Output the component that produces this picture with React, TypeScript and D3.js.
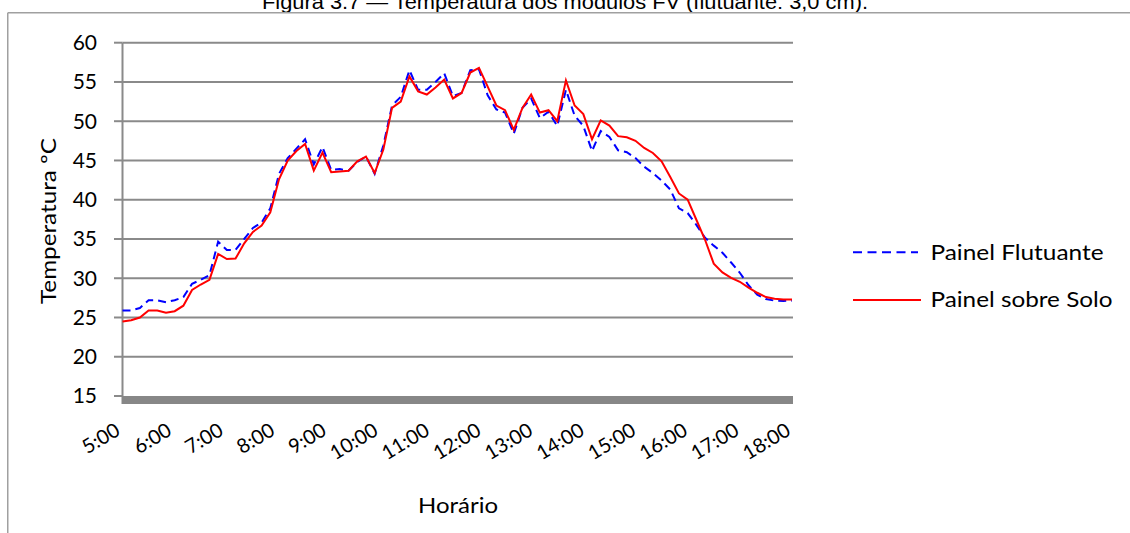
import React from "react";
import * as d3 from "d3";

const hourLabels = ["5:00","6:00","7:00","8:00","9:00","10:00","11:00","12:00","13:00","14:00","15:00","16:00","17:00","18:00"];
const yTicks = [15, 20, 25, 30, 35, 40, 45, 50, 55, 60];
const seriesNames = ["Painel Flutuante", "Painel sobre Solo"];

const flutuante = [
  25.9, 25.9, 26.2, 27.2, 27.2, 26.95, 27.2, 27.6, 29.3, 29.8,
  30.4, 34.65, 33.6, 33.6, 35.0, 36.4, 37.1, 38.9, 43.3, 45.3,
  46.5, 47.7, 44.5, 46.7, 43.8, 43.9, 43.7, 44.8, 45.5, 43.3,
  46.9, 52.0, 53.1, 56.5, 54.0, 54.0, 55.0, 56.1, 53.2, 53.6,
  56.5, 56.6, 53.3, 51.5, 51.1, 48.4, 51.7, 52.9, 50.4, 51.2,
  49.4, 54.0, 50.7, 49.4, 46.2, 48.75, 48.0, 46.3, 46.05, 45.3,
  44.2, 43.4, 42.45, 41.3, 38.9, 38.3, 36.8, 35.15, 34.15, 33.25,
  32.0, 30.7, 29.1, 27.9, 27.35, 27.15, 27.1, 27.15
];

const solo = [
  24.5, 24.65, 25.0, 25.9, 25.9, 25.6, 25.8, 26.5, 28.5, 29.2,
  29.8, 33.1, 32.45, 32.5, 34.45, 35.9, 36.7, 38.4, 42.6, 45.0,
  46.2, 47.1, 43.7, 46.0, 43.5, 43.6, 43.7, 44.9, 45.5, 43.4,
  46.4, 51.7, 52.5, 55.7, 53.8, 53.4, 54.3, 55.3, 52.9, 53.6,
  56.2, 56.8, 54.4, 52.0, 51.4, 48.9, 51.7, 53.4, 51.1, 51.4,
  50.0, 55.2, 52.0, 50.9, 47.7, 50.1, 49.45, 48.1, 47.95, 47.5,
  46.6, 45.95, 44.9, 42.9, 40.8, 40.0, 37.45, 34.9, 31.85, 30.75,
  30.05, 29.55, 28.8, 28.15, 27.6, 27.4, 27.3, 27.3
];

const FONT = "Lato, 'Open Sans', sans-serif";

export default function App() {
  const W = 1130, H = 533;
  const left = 122.5, right = 793;
  const y = d3.scaleLinear().domain([15, 60]).range([396, 42.7]);
  const xi = d3.scaleLinear().domain([0, solo.length - 1]).range([left, 792]);
  const xh = d3.scalePoint<string>().domain(hourLabels).range([left, right]);
  const line = d3.line<number>().x((_, i) => xi(i)).y((d) => y(d));
  const grid = "#8a8a8a";

  return (
    <svg width={W} height={H} style={{ position: "absolute", left: 0, top: 0, background: "#fff" }}>
      <text x={565} y={9} textAnchor="middle" fontFamily="'Liberation Sans', Arial, sans-serif" fontSize={20}
        textLength={606} lengthAdjust="spacingAndGlyphs" fill="#000">
        Figura 3.7 — Temperatura dos módulos FV (flutuante: 3,0 cm).
      </text>
      {/* frame */}
      <line x1={7.75} x2={1130} y1={12.7} y2={12.7} stroke="#a0a0a0" strokeWidth={1.5} />
      <line x1={7.75} x2={7.75} y1={12.7} y2={533} stroke="#a0a0a0" strokeWidth={1.5} />

      {/* gridlines and ticks */}
      {yTicks.map((t) => (
        <g key={t}>
          {t !== 15 && <line x1={left} x2={right} y1={y(t)} y2={y(t)} stroke={grid} strokeWidth={2} />}
          <line x1={114} x2={left} y1={y(t)} y2={y(t)} stroke={grid} strokeWidth={2} />
          <text x={97} y={y(t)} dy="0.35em" textAnchor="end" fontFamily={FONT} fontSize={21} fill="#000">{t}</text>
        </g>
      ))}
      <line x1={left} x2={left} y1={y(60)} y2={y(15)} stroke={grid} strokeWidth={2} />
      <rect x={left - 1} y={y(15)} width={right - left + 1} height={8} fill="#878787" />

      {/* x labels */}
      {hourLabels.map((h) => (
        <text key={h} transform={`translate(${(xh(h) as number) - 1},${434}) rotate(-31)`} textAnchor="end"
          fontFamily={FONT} fontSize={20} fill="#000">{h}</text>
      ))}

      {/* series */}
      <path d={line(flutuante) || ""} fill="none" stroke="#0000ff" strokeWidth={2} strokeDasharray="8,5" />
      <path d={line(solo) || ""} fill="none" stroke="#ff0000" strokeWidth={2} />

      {/* axis titles */}
      <text transform={`translate(56,221) rotate(-90)`} textAnchor="middle" fontFamily={FONT} fontSize={21}
        textLength={166} lengthAdjust="spacingAndGlyphs" fill="#000">Temperatura ºC</text>
      <text x={458} y={513} textAnchor="middle" fontFamily={FONT} fontSize={21}
        textLength={80} lengthAdjust="spacingAndGlyphs" fill="#000">Horário</text>

      {/* legend */}
      <line x1={853} x2={918} y1={252.3} y2={252.3} stroke="#0000ff" strokeWidth={2} strokeDasharray="9,5.5" />
      <text x={930.5} y={252.3} dy="0.35em" fontFamily={FONT} fontSize={21}
        textLength={173} lengthAdjust="spacingAndGlyphs" fill="#000">{seriesNames[0]}</text>
      <line x1={853} x2={921} y1={300} y2={300} stroke="#ff0000" strokeWidth={2} />
      <text x={930.5} y={300} dy="0.35em" fontFamily={FONT} fontSize={21}
        textLength={182} lengthAdjust="spacingAndGlyphs" fill="#000">{seriesNames[1]}</text>
    </svg>
  );
}
